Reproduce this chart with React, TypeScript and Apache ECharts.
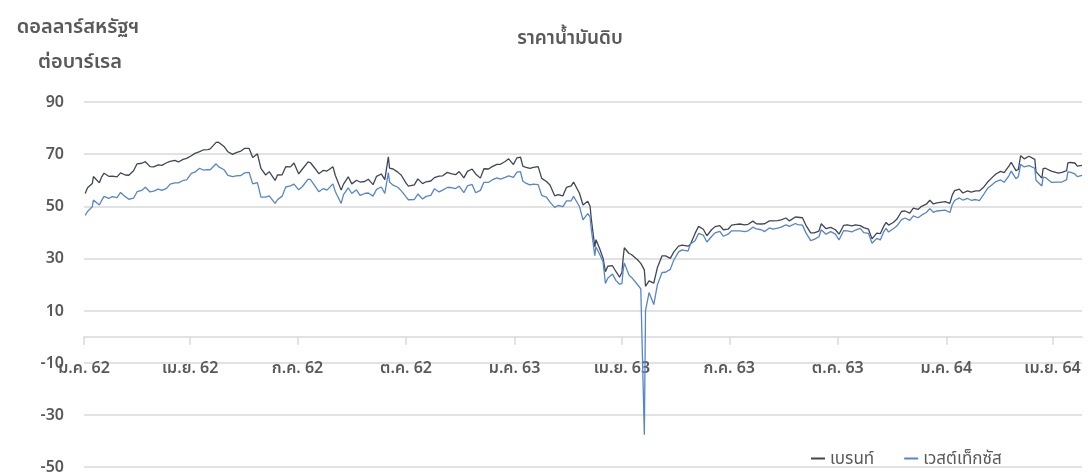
import React, { useEffect, useRef } from "react";
import * as echarts from "echarts";

const dates = [
  "2019-01-02","2019-01-04","2019-01-08","2019-01-09","2019-01-14","2019-01-16","2019-01-18","2019-01-22","2019-01-25","2019-01-29",
  "2019-02-01","2019-02-05","2019-02-08","2019-02-12","2019-02-15","2019-02-19","2019-02-22","2019-02-26","2019-03-01","2019-03-05",
  "2019-03-08","2019-03-12","2019-03-15","2019-03-19","2019-03-22","2019-03-26","2019-03-29","2019-04-02","2019-04-05","2019-04-09",
  "2019-04-12","2019-04-16","2019-04-18","2019-04-23","2019-04-25","2019-04-30","2019-05-03","2019-05-07","2019-05-10","2019-05-14",
  "2019-05-17","2019-05-21","2019-05-24","2019-05-28","2019-05-31","2019-06-04","2019-06-07","2019-06-12","2019-06-14","2019-06-18",
  "2019-06-21","2019-06-25","2019-06-28","2019-07-02","2019-07-05","2019-07-10","2019-07-12","2019-07-16","2019-07-19","2019-07-23",
  "2019-07-26","2019-07-31","2019-08-02","2019-08-07","2019-08-09","2019-08-13","2019-08-16","2019-08-20","2019-08-23","2019-08-27",
  "2019-08-30","2019-09-03","2019-09-06","2019-09-10","2019-09-13","2019-09-16","2019-09-17","2019-09-20","2019-09-24","2019-09-27",
  "2019-10-01","2019-10-03","2019-10-08","2019-10-11","2019-10-15","2019-10-18","2019-10-22","2019-10-25","2019-10-29","2019-11-01",
  "2019-11-05","2019-11-08","2019-11-12","2019-11-15","2019-11-19","2019-11-22","2019-11-26","2019-11-29","2019-12-03","2019-12-06",
  "2019-12-10","2019-12-13","2019-12-17","2019-12-20","2019-12-24","2019-12-27","2019-12-31","2020-01-03","2020-01-06","2020-01-08",
  "2020-01-10","2020-01-14","2020-01-17","2020-01-21","2020-01-24","2020-01-28","2020-01-31","2020-02-04","2020-02-07","2020-02-11",
  "2020-02-14","2020-02-18","2020-02-20","2020-02-25","2020-02-28","2020-03-03","2020-03-05","2020-03-06","2020-03-09","2020-03-10",
  "2020-03-13","2020-03-16","2020-03-18","2020-03-20","2020-03-24","2020-03-27","2020-03-30","2020-04-01","2020-04-02","2020-04-03",
  "2020-04-07","2020-04-09","2020-04-14","2020-04-17","2020-04-20","2020-04-21","2020-04-24","2020-04-28","2020-05-01","2020-05-05",
  "2020-05-08","2020-05-12","2020-05-15","2020-05-19","2020-05-22","2020-05-27","2020-05-29","2020-06-02","2020-06-05","2020-06-09",
  "2020-06-12","2020-06-16","2020-06-19","2020-06-23","2020-06-26","2020-06-30","2020-07-03","2020-07-07","2020-07-10","2020-07-14",
  "2020-07-17","2020-07-21","2020-07-24","2020-07-28","2020-07-31","2020-08-04","2020-08-07","2020-08-11","2020-08-14","2020-08-18",
  "2020-08-21","2020-08-26","2020-08-28","2020-09-01","2020-09-04","2020-09-08","2020-09-11","2020-09-15","2020-09-17","2020-09-21",
  "2020-09-25","2020-09-29","2020-10-02","2020-10-06","2020-10-09","2020-10-13","2020-10-16","2020-10-20","2020-10-23","2020-10-27",
  "2020-10-30","2020-11-03","2020-11-06","2020-11-09","2020-11-11","2020-11-13","2020-11-17","2020-11-20","2020-11-24","2020-11-27",
  "2020-12-01","2020-12-04","2020-12-08","2020-12-11","2020-12-15","2020-12-18","2020-12-21","2020-12-24","2020-12-31","2021-01-04",
  "2021-01-06","2021-01-08","2021-01-12","2021-01-15","2021-01-19","2021-01-22","2021-01-26","2021-01-29","2021-02-02","2021-02-05",
  "2021-02-09","2021-02-12","2021-02-16","2021-02-19","2021-02-23","2021-02-25","2021-03-01","2021-03-03","2021-03-05","2021-03-08",
  "2021-03-12","2021-03-17","2021-03-18","2021-03-23","2021-03-24","2021-03-26","2021-03-31","2021-04-06","2021-04-09","2021-04-13",
  "2021-04-14","2021-04-16","2021-04-20","2021-04-22","2021-04-26"
];

const brent = [
  54.9,57.1,58.7,61.4,59.0,61.3,62.7,61.5,61.6,61.3,
  62.8,62.0,61.9,63.6,66.3,66.5,67.1,65.2,65.1,65.9,
  65.7,66.7,67.2,67.6,67.0,68.0,68.4,69.4,70.3,71.0,
  71.6,71.7,72.0,74.5,74.6,72.8,70.9,69.9,70.6,71.2,
  72.2,72.2,68.7,70.1,64.5,62.0,63.3,59.9,62.0,62.1,
  65.2,65.1,66.6,62.4,64.2,67.0,66.7,64.4,62.5,63.8,
  63.5,65.2,61.9,56.2,58.5,61.3,58.6,60.0,59.3,59.5,
  60.4,58.3,61.5,62.4,60.2,69.0,64.6,64.3,63.1,61.9,
  58.9,57.7,58.2,60.5,58.7,59.4,59.7,61.0,61.6,61.7,
  63.0,62.5,62.1,63.3,60.9,63.4,64.3,62.4,60.8,64.4,
  64.3,65.2,66.1,66.1,67.2,68.2,66.0,68.6,68.9,65.4,
  65.0,64.5,64.9,65.2,60.7,59.5,58.2,54.0,54.5,54.0,
  57.3,57.8,59.3,55.0,50.5,51.9,50.0,45.3,34.4,37.2,
  33.9,30.1,24.9,27.0,27.2,24.9,22.8,24.7,29.9,34.1,
  31.9,31.5,29.6,28.1,25.6,19.3,21.4,20.5,26.4,31.0,
  31.0,30.0,32.5,34.7,35.1,34.7,35.3,39.6,42.3,41.2,
  38.7,41.0,42.2,42.6,41.0,41.2,42.8,43.1,43.2,42.9,
  43.1,44.3,43.3,43.2,43.3,44.4,44.4,44.5,44.8,45.5,
  44.4,45.9,45.8,45.6,42.7,39.8,39.8,40.5,43.3,41.4,
  41.9,41.0,39.3,42.7,42.9,42.5,42.9,42.6,41.8,41.2,
  37.5,39.7,39.5,42.4,43.8,42.8,43.8,45.0,48.0,48.2,
  47.4,49.3,48.8,50.0,50.8,52.3,50.9,51.3,51.8,51.1,
  54.3,56.0,56.6,55.1,55.9,55.4,55.9,55.9,57.5,59.3,
  61.1,62.4,63.4,62.9,65.4,66.9,63.7,64.1,69.4,68.2,
  69.2,68.0,63.3,60.8,64.4,64.6,63.5,62.7,63.0,63.7,
  66.6,66.8,66.6,65.4,65.7
];

const wti = [
  46.5,48.0,49.8,52.4,50.5,52.3,53.8,53.0,53.7,53.3,
  55.3,53.7,52.7,53.1,55.6,56.1,57.3,55.5,55.8,56.6,
  56.1,56.9,58.5,59.0,59.0,59.9,60.1,62.6,63.1,64.6,
  63.9,64.1,64.0,66.3,65.2,63.9,61.9,61.4,61.7,61.8,
  62.8,63.0,58.6,59.1,53.5,53.5,54.0,51.1,52.5,53.9,
  57.4,57.8,58.5,56.3,57.5,60.4,60.2,57.6,55.6,56.8,
  56.2,58.6,55.7,51.1,54.5,57.1,54.9,56.3,54.2,54.9,
  55.1,53.9,56.5,57.4,54.9,62.9,59.3,58.1,57.3,55.9,
  53.6,52.5,52.6,54.7,52.8,53.8,54.2,56.7,55.5,56.2,
  57.2,57.2,56.8,57.7,55.2,57.8,58.4,55.2,56.1,59.2,
  59.2,60.1,60.9,60.4,61.1,61.7,61.1,63.1,63.3,59.6,
  59.0,58.2,58.5,58.3,54.2,53.5,51.6,49.6,50.3,49.9,
  52.1,52.1,53.8,49.9,44.8,47.2,45.9,41.3,31.1,34.4,
  31.7,28.7,20.4,22.4,24.0,21.5,20.1,20.3,25.3,28.3,
  23.6,22.8,20.1,18.3,-37.6,10.0,16.9,12.3,19.8,24.6,
  24.7,25.8,29.4,32.5,33.3,32.8,35.5,36.8,39.6,38.9,
  36.3,38.4,39.8,40.4,38.5,39.3,40.6,40.6,40.6,40.3,
  40.6,42.0,41.3,41.0,40.3,41.7,41.2,41.6,42.0,42.9,
  42.3,43.4,43.0,42.8,39.8,36.8,37.3,38.3,41.0,39.3,
  40.3,39.3,37.1,40.7,40.6,40.2,40.9,41.5,39.9,39.6,
  35.8,37.7,37.1,40.3,41.5,40.1,41.4,42.4,44.9,45.5,
  44.6,46.3,45.6,46.6,47.6,49.1,47.7,48.2,48.5,47.6,
  50.6,52.2,53.2,52.4,53.0,52.3,52.6,52.2,54.8,56.9,
  58.4,59.5,60.1,59.2,61.7,63.5,60.6,61.3,66.1,65.1,
  65.6,64.6,60.0,57.8,61.2,61.0,59.2,59.3,59.3,60.2,
  63.2,63.1,62.4,61.4,61.9
];

const seriesNames = ["เบรนท์", "เวสต์เท็กซัส"];
const xTickDates = [
  "2019-01-01","2019-04-01","2019-07-01","2019-10-01","2020-01-01",
  "2020-04-01","2020-07-01","2020-10-01","2021-01-01","2021-04-01"
];
const xTickLabels = [
  "ม.ค. 62","เม.ย. 62","ก.ค. 62","ต.ค. 62","ม.ค. 63",
  "เม.ย. 63","ก.ค. 63","ต.ค. 63","ม.ค. 64","เม.ย. 64"
];
const yTickLabels = [-50, -30, -10, 10, 30, 50, 70, 90];
const titleText = "ราคาน้ำมันดิบ";
const yTitleLines = ["ดอลลาร์สหรัฐฯ", "ต่อบาร์เรล"];

const FONT = "'Noto Sans Thai', 'Kanit', 'Tahoma', 'Noto Sans', sans-serif";
const TXT = "#595959";

function toTs(s: string) {
  const [y, m, d] = s.split("-").map(Number);
  return Date.UTC(y, m - 1, d);
}

export default function App() {
  const ref = useRef<HTMLDivElement>(null);
  useEffect(() => {
    if (!ref.current) return;
    const chart = echarts.init(ref.current, undefined, { renderer: "svg" });
    const tickTs = xTickDates.map(toTs);
    const yMin = yTickLabels[0];
    const yMax = yTickLabels[yTickLabels.length - 1];
    const yStep = yTickLabels[1] - yTickLabels[0];
    chart.setOption({
      animation: false,
      textStyle: { fontFamily: FONT },
      graphic: [
        {
          type: "text", x: 570, y: 38,
          style: { text: titleText, align: "center", verticalAlign: "middle", fontSize: 19, fontWeight: 600, fill: TXT, fontFamily: FONT }
        },
        {
          type: "text", x: 78, y: 27,
          style: { text: yTitleLines[0], align: "center", verticalAlign: "middle", fontSize: 20, fontWeight: 600, fill: TXT, fontFamily: FONT }
        },
        {
          type: "text", x: 80, y: 62,
          style: { text: yTitleLines[1], align: "center", verticalAlign: "middle", fontSize: 20, fontWeight: 600, fill: TXT, fontFamily: FONT }
        }
      ],
      legend: {
        left: 806, top: 445,
        itemWidth: 14, itemHeight: 2, itemGap: 30,
        icon: "rect",
        textStyle: { color: TXT, fontSize: 17, fontFamily: FONT },
        data: seriesNames
      },
      grid: { left: 84, right: 6, top: 102, bottom: 7, containLabel: false, outerBoundsMode: "none" },
      xAxis: {
        type: "value",
        min: toTs("2019-01-01"),
        max: toTs(dates[dates.length - 1]),
        axisLine: { onZero: true, onZeroAxisIndex: 0, lineStyle: { color: "#d9d9d9", width: 1.5 } },
        axisTick: { show: true, customValues: tickTs, length: 8, lineStyle: { color: "#d9d9d9", width: 1.5 } },
        axisLabel: {
          customValues: tickTs,
          margin: -107,
          hideOverlap: false,
          color: TXT, fontSize: 16, fontWeight: 600, fontFamily: FONT,
          formatter: (v: number) => {
            const i = tickTs.indexOf(v);
            return i >= 0 ? xTickLabels[i] : "";
          }
        },
        splitLine: { show: false }
      },
      yAxis: [
        {
          type: "value", min: yMin, max: yMax, position: "left",
          axisLine: { show: false }, axisTick: { show: false },
          axisLabel: { show: false }, splitLine: { show: false }
        },
        {
          type: "value", min: 0, max: yMax - yMin, interval: yStep, position: "left",
          axisLine: { show: false }, axisTick: { show: false },
          axisLabel: {
            margin: 20, color: TXT, fontSize: 16, fontWeight: 600, fontFamily: FONT,
            formatter: (v: number) => String(v + yMin)
          },
          splitLine: { show: true, lineStyle: { color: "#d9d9d9", width: 1.5 } }
        }
      ],
      series: [
        {
          name: seriesNames[0], type: "line", yAxisIndex: 0, showSymbol: false, symbol: "none",
          lineStyle: { color: "#3f4656", width: 1.3 }, itemStyle: { color: "#3f4656" },
          data: dates.map((d, i) => [toTs(d), brent[i]])
        },
        {
          name: seriesNames[1], type: "line", yAxisIndex: 0, showSymbol: false, symbol: "none",
          lineStyle: { color: "#5585cc", width: 1.3 }, itemStyle: { color: "#5585cc" },
          data: dates.map((d, i) => [toTs(d), wti[i]])
        }
      ]
    });
    return () => chart.dispose();
  }, []);
  return <div ref={ref} style={{ position: "fixed", left: 0, top: 0, width: 1088, height: 474 }} />;
}
